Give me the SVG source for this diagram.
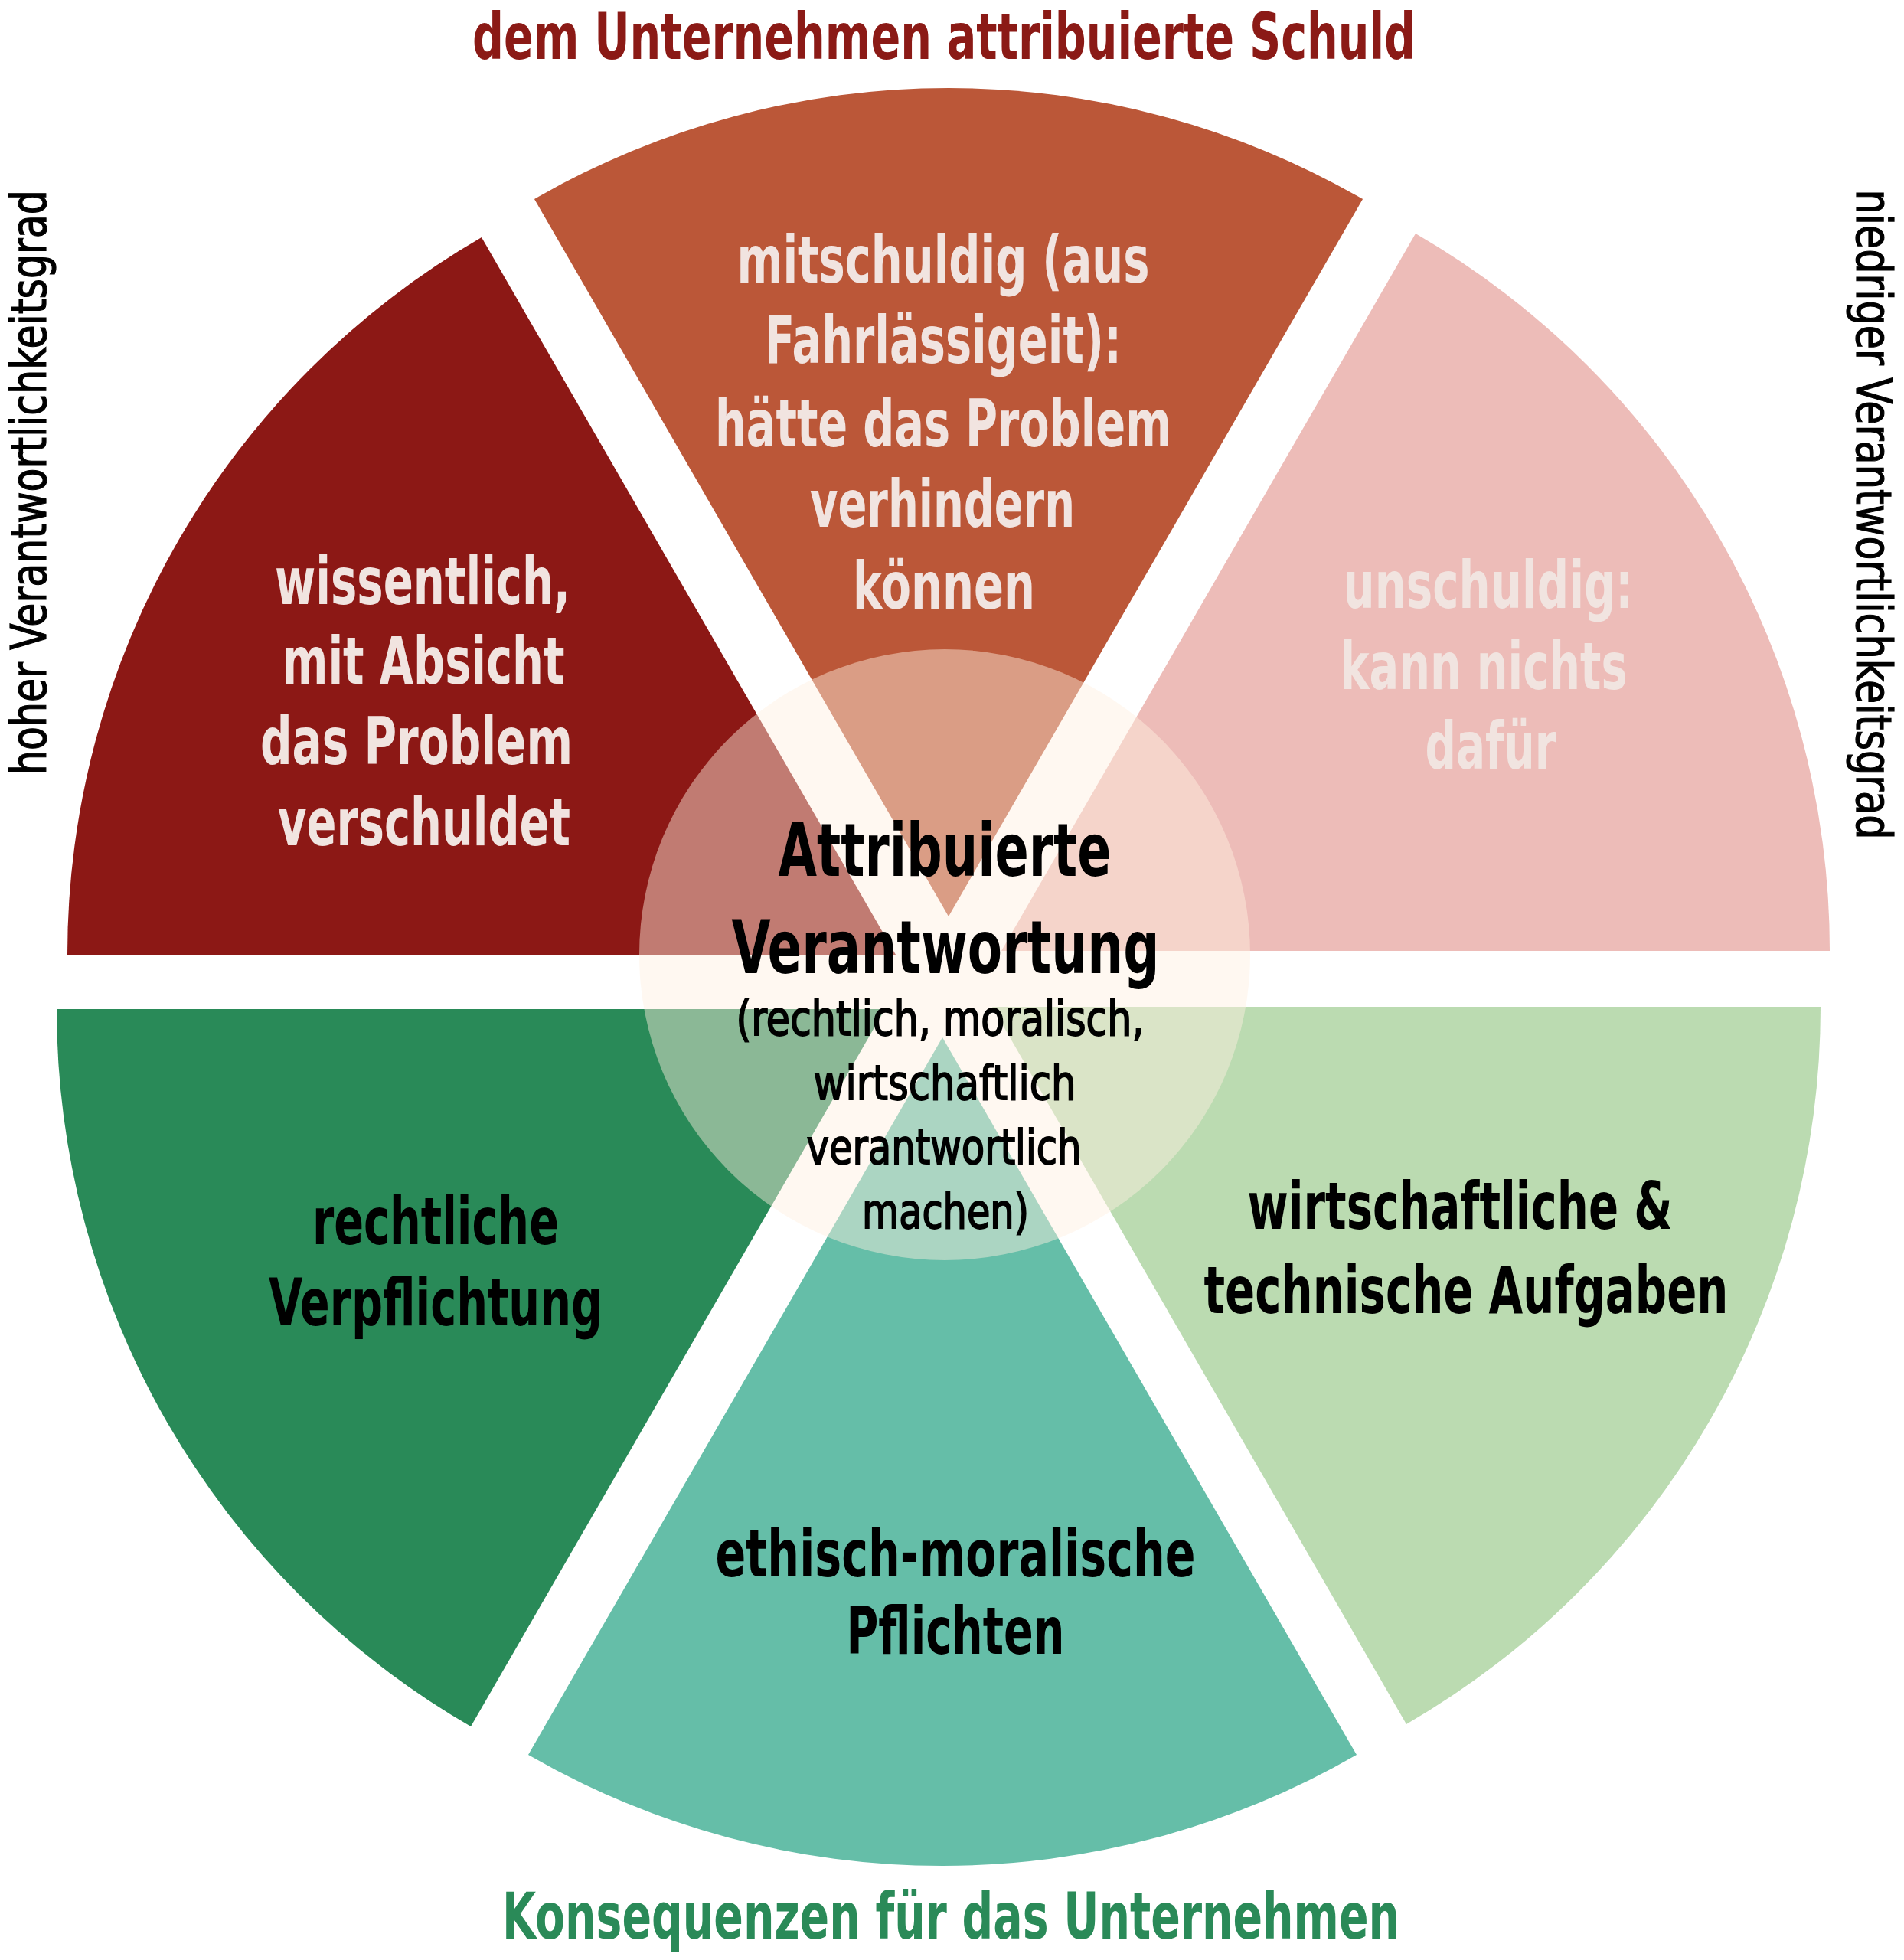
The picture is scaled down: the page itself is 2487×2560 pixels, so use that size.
<svg xmlns="http://www.w3.org/2000/svg" width="2487" height="2560" viewBox="0 0 2487 2560">
<style>
text { font-family: 'Liberation Sans Narrow', 'DejaVu Sans Condensed', 'Liberation Sans', sans-serif; text-anchor: middle; }
.lbl { font-size: 86px; font-weight: bold; }
.light { fill: #F1E4E0; }
.dark { fill: #000000; }
.title { font-size: 84px; font-weight: bold; }
.side { font-size: 64px; fill: #000000; stroke: #000000; stroke-width: 1.2px; }
.main { font-size: 96px; font-weight: bold; fill: #000000; }
.sub { font-size: 62px; fill: #000000; stroke: #000000; stroke-width: 1.8px; }
</style>
<rect width="2487" height="2560" fill="#FFFFFF"/>

<g id="title-schuld">
<text class="title" x="1233" y="77" fill="#8B1A16" textLength="1232" lengthAdjust="spacingAndGlyphs">dem Unternehmen attribuierte Schuld</text>
</g>
<g id="title-konsequenzen">
<text class="title" x="1242" y="2532" fill="#2A8A58" textLength="1172" lengthAdjust="spacingAndGlyphs">Konsequenzen für das Unternehmen</text>
</g>
<g id="side-hoch">
<text class="side" transform="translate(60,630) rotate(-90)" x="0" y="0" textLength="764" lengthAdjust="spacingAndGlyphs">hoher Verantwortlichkeitsgrad</text>
</g>
<g id="side-niedrig">
<text class="side" transform="translate(2425,672) rotate(90)" x="0" y="0" textLength="849" lengthAdjust="spacingAndGlyphs">niedriger Verantwortlichkeitsgrad</text>
</g>

<g id="sector-wissentlich">
<path d="M1170,1247 L88,1247 A1082,1082 0 0 1 629,310 Z" fill="#8C1815"/>
<text class="lbl light" x="552" y="789" textLength="386" lengthAdjust="spacingAndGlyphs">wissentlich,</text>
<text class="lbl light" x="553" y="893" textLength="369" lengthAdjust="spacingAndGlyphs">mit Absicht</text>
<text class="lbl light" x="544" y="998" textLength="408" lengthAdjust="spacingAndGlyphs">das Problem</text>
<text class="lbl light" x="554" y="1104" textLength="382" lengthAdjust="spacingAndGlyphs">verschuldet</text>
</g>

<g id="sector-mitschuldig">
<path d="M1239,1197 L698,260 A1082,1082 0 0 1 1780,260 Z" fill="#BB5738"/>
<text class="lbl light" x="1232" y="369" textLength="539" lengthAdjust="spacingAndGlyphs">mitschuldig (aus</text>
<text class="lbl light" x="1232" y="474" textLength="466" lengthAdjust="spacingAndGlyphs">Fahrlässigeit):</text>
<text class="lbl light" x="1232" y="583" textLength="596" lengthAdjust="spacingAndGlyphs">hätte das Problem</text>
<text class="lbl light" x="1231" y="688" textLength="346" lengthAdjust="spacingAndGlyphs">verhindern</text>
<text class="lbl light" x="1233" y="795" textLength="238" lengthAdjust="spacingAndGlyphs">können</text>
</g>

<g id="sector-unschuldig">
<path d="M1308,1242 L1849,305 A1082,1082 0 0 1 2390,1242 Z" fill="#EDBCB8"/>
<text class="lbl light" x="1944" y="794" textLength="379" lengthAdjust="spacingAndGlyphs">unschuldig:</text>
<text class="lbl light" x="1938" y="900" textLength="375" lengthAdjust="spacingAndGlyphs">kann nichts</text>
<text class="lbl light" x="1947" y="1004" textLength="171" lengthAdjust="spacingAndGlyphs">dafür</text>
</g>

<g id="sector-rechtlich">
<path d="M1156,1318 L615,2255 A1082,1082 0 0 1 74,1318 Z" fill="#298A58"/>
<text class="lbl dark" x="569" y="1625" textLength="322" lengthAdjust="spacingAndGlyphs">rechtliche</text>
<text class="lbl dark" x="569" y="1731" textLength="436" lengthAdjust="spacingAndGlyphs">Verpflichtung</text>
</g>

<g id="sector-ethisch">
<path d="M1231,1355 L1772,2292 A1082,1082 0 0 1 690,2292 Z" fill="#65BEA8"/>
<text class="lbl dark" x="1248" y="2059" textLength="627" lengthAdjust="spacingAndGlyphs">ethisch-moralische</text>
<text class="lbl dark" x="1248" y="2160" textLength="285" lengthAdjust="spacingAndGlyphs">Pflichten</text>
</g>

<g id="sector-wirtschaftlich">
<path d="M1296,1315 L2378,1315 A1082,1082 0 0 1 1837,2252 Z" fill="#BBDBB1"/>
<text class="lbl dark" x="1907" y="1605" textLength="555" lengthAdjust="spacingAndGlyphs">wirtschaftliche &amp;</text>
<text class="lbl dark" x="1915" y="1715" textLength="685" lengthAdjust="spacingAndGlyphs">technische Aufgaben</text>
</g>

<g id="center">
<circle cx="1234" cy="1247" r="399" fill="#FFF0E0" fill-opacity="0.46"/>
<text class="main" x="1234" y="1144" textLength="435" lengthAdjust="spacingAndGlyphs">Attribuierte</text>
<text class="main" x="1235" y="1271" textLength="559" lengthAdjust="spacingAndGlyphs">Verantwortung</text>
<text class="sub" x="1228" y="1352" textLength="533" lengthAdjust="spacingAndGlyphs">(rechtlich, moralisch,</text>
<text class="sub" x="1234" y="1436" textLength="343" lengthAdjust="spacingAndGlyphs">wirtschaftlich</text>
<text class="sub" x="1233" y="1520" textLength="359" lengthAdjust="spacingAndGlyphs">verantwortlich</text>
<text class="sub" x="1235" y="1604" textLength="218" lengthAdjust="spacingAndGlyphs">machen)</text>
</g>

<g id="connectors"/>
</svg>
